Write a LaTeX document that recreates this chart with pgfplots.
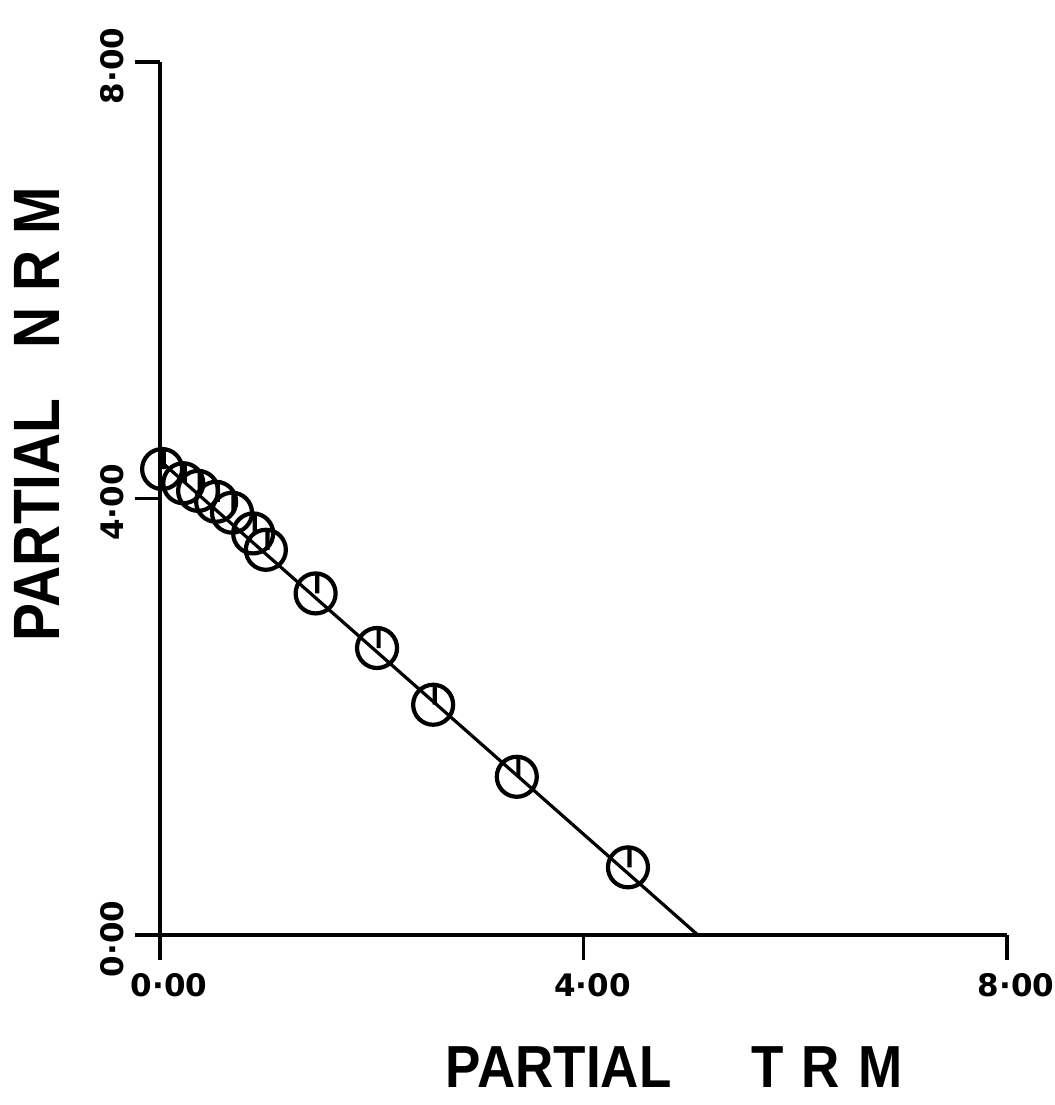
\documentclass[border=0pt]{standalone}
\usepackage{fontspec}
\setmainfont{Liberation Sans}
\newfontfamily\tickfont{DejaVu Sans}
\usepackage{graphicx}
\usepackage{pgfplots}
\pgfplotsset{compat=1.18}
\pgfdeclareplotmark{circtick}{%
  \pgfpathcircle{\pgfpointorigin}{\pgfplotmarksize}%
  \pgfpathmoveto{\pgfpoint{0.8pt}{0pt}}%
  \pgfpathlineto{\pgfpoint{0.8pt}{\pgfplotmarksize}}%
  \pgfusepathqstroke}
\begin{document}
\begin{tikzpicture}
\begin{axis}[
  scale only axis,
  width=423.5pt, height=436.5pt,
  xmin=0, xmax=8, ymin=0, ymax=8,
  axis x line*=bottom, axis y line*=left,
  axis line style={line width=1.7pt},
  tick align=outside,
  major tick length=12.5pt,
  tick style={line width=1.7pt, black},
  xtick={0,4,8}, ytick={0,4,8},
  xticklabels={0·00,4·00,8·00},
  yticklabels={0·00,4·00,8·00},
  ticklabel style={font=\tickfont\fontsize{15.5}{20}\selectfont\bfseries},
  xticklabel style={anchor=north, xshift=4.5pt, yshift=-3pt},
  yticklabel style={rotate=90, anchor=south, xshift=-2pt, yshift=2pt},
  xlabel={\scalebox{1}[1.12]{PARTIAL\hspace{40pt}T\hspace{9pt}R\hspace{9pt}M}},
  ylabel={\scalebox{1}[1.15]{PARTIAL\hspace{25pt}N\hspace{8pt}R\hspace{8pt}M}},
  xlabel style={font=\fontsize{26.5}{30}\selectfont\bfseries, inner sep=0pt, at={(rel axis cs:0.607,0)}, anchor=center, yshift=-66pt},
  ylabel style={font=\fontsize{28.5}{32}\selectfont\bfseries, inner sep=0pt, at={(rel axis cs:0,0.597)}, anchor=center, yshift=61.5pt},
  clip=false,
]
\addplot[black, line width=1.6pt, no marks] coordinates {(0.02,4.33) (5.08,0)};
\addplot[only marks, mark=circtick, mark size=10pt, black, mark options={line width=2.1pt, fill=none}] coordinates {
(0.02,4.27) (0.22,4.14) (0.36,4.07) (0.53,3.97) (0.68,3.87) (0.88,3.68) (1.00,3.53)
(1.47,3.13) (2.05,2.63) (2.58,2.11) (3.37,1.45) (4.42,0.62)
};
\end{axis}
\pgfresetboundingbox
\useasboundingbox (-80pt,-85pt) rectangle (447.5pt,467.5pt);
\end{tikzpicture}
\end{document}
